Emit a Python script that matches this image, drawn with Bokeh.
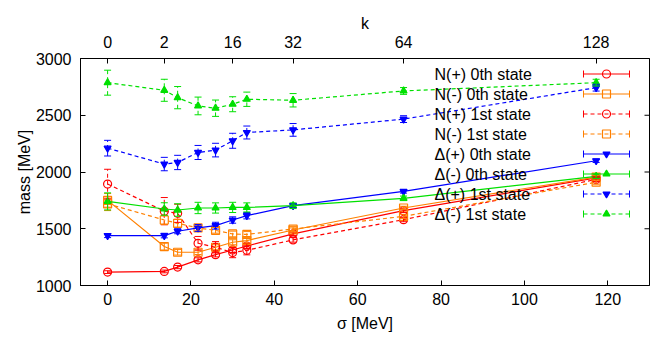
import numpy as np
from bokeh.plotting import figure
from bokeh.models import (LinearAxis, FixedTicker, Range1d, Whisker, ColumnDataSource,
                          Label, TeeHead)
from bokeh.embed import file_html
from bokeh.resources import INLINE

# ---------------- data ----------------
sigma = [0.0, 13.6, 16.8, 21.7, 25.9, 30.0, 33.4, 44.5, 71.0, 117.2]
k_labels = ["0", "2", "16", "32", "64", "128"]
k_sigma = [0.0, 13.6, 30.0, 44.5, 71.0, 117.2]
y_ticks = [1000, 1500, 2000, 2500, 3000]
x_ticks = [0, 20, 40, 60, 80, 100, 120]

Np0 = [1118, 1124, 1162, 1226, 1272, 1313, 1348, 1455, 1659, 1948]
Np0_err = [12, 12, 14, 18, 20, 22, 22, 15, 15, 15]
Nm0 = [1750, 1343, 1293, 1293, 1337, 1381, 1396, 1489, 1683, 1955]
Nm0_err = [60, 30, 25, 20, 22, 22, 22, 18, 15, 15]
Np1 = [1894, 1655, 1636, 1372, 1337, 1290, 1310, 1402, 1580, 1935]
Np1_err = [130, 120, 80, 60, 50, 45, 40, 20, 18, 18]
Nm1 = [1720, 1577, 1548, 1507, 1486, 1454, 1450, 1498, 1609, 1910]
Nm1_err = [60, 40, 35, 25, 25, 25, 25, 20, 18, 18]
Dp0 = [1440, 1440, 1478, 1507, 1527, 1577, 1615, 1703, 1829, 2099]
Dp0_err = [18, 20, 22, 30, 30, 28, 28, 18, 15, 15]
Dm0 = [1741, 1674, 1665, 1683, 1683, 1688, 1688, 1703, 1768, 1962]
Dm0_err = [75, 55, 55, 50, 45, 45, 40, 25, 20, 20]
Dp1 = [2210, 2070, 2084, 2172, 2193, 2275, 2348, 2371, 2466, 2743]
Dp1_err = [69, 59, 63, 62, 60, 66, 57, 56, 30, 30]
Dm1 = [2787, 2720, 2655, 2582, 2562, 2597, 2641, 2632, 2714, 2787]
Dm1_err = [110, 97, 98, 78, 72, 66, 63, 59, 30, 30]

names = ["N(+) 0th state", "N(-) 0th state", "N(+) 1st state", "N(-) 1st state",
         "\u0394(+) 0th state", "\u0394(-) 0th state", "\u0394(+) 1st state", "\u0394(-) 1st state"]

RED = "#ff0000"
ORANGE = "#ff8000"
BLUE = "#0000ff"
GREEN = "#00e000"

series = [
    (Np0, Np0_err, RED, "solid", "circle", False),
    (Nm0, Nm0_err, ORANGE, "solid", "square", False),
    (Np1, Np1_err, RED, "4 3", "circle", False),
    (Nm1, Nm1_err, ORANGE, "4 3", "square", False),
    (Dp0, Dp0_err, BLUE, "solid", "inverted_triangle", True),
    (Dm0, Dm0_err, GREEN, "solid", "triangle", True),
    (Dp1, Dp1_err, BLUE, "4 3", "inverted_triangle", True),
    (Dm1, Dm1_err, GREEN, "4 3", "triangle", True),
]

FONT = "Liberation Sans"

X0, X1 = -6.5, 130.0
Y0, Y1 = 1000.0, 3000.0
W, H = 656, 334
FL, FW, FT, FH = 80, 569, 58, 227
ORIGIN_X, ORIGIN_Y = 0, 0

p = figure(width=W, height=H, x_range=Range1d(X0, X1), y_range=Range1d(Y0, Y1),
           output_backend="svg", toolbar_location=None,
           x_axis_type=None, y_axis_type=None,
           min_border_left=FL, min_border_right=W - FL - FW,
           min_border_top=FT, min_border_bottom=H - FT - FH)
p.grid.visible = False
p.outline_line_color = "black"
p.outline_line_width = 1
p.background_fill_color = "white"
p.border_fill_color = "white"


def style_axis(ax):
    ax.major_tick_in = 5
    ax.major_tick_out = 0
    ax.minor_tick_in = 0
    ax.minor_tick_out = 0
    ax.axis_line_color = "black"
    ax.major_tick_line_color = "black"
    ax.major_label_text_font = FONT
    ax.major_label_text_font_size = "16px"
    ax.major_label_text_color = "black"
    ax.axis_label_text_font = FONT
    ax.axis_label_text_font_size = "16px"
    ax.axis_label_text_font_style = "normal"
    ax.axis_label_text_color = "black"


xb = LinearAxis(ticker=FixedTicker(ticks=x_ticks), axis_label="\u03c3 [MeV]")
style_axis(xb)
xb.major_label_standoff = 7
xb.axis_label_standoff = 7
p.add_layout(xb, "below")

yl = LinearAxis(ticker=FixedTicker(ticks=y_ticks), axis_label="mass [MeV]")
style_axis(yl)
yl.major_label_standoff = 9
yl.axis_label_standoff = 0
p.add_layout(yl, "left")

xt = LinearAxis(ticker=FixedTicker(ticks=k_sigma), axis_label="k",
                major_label_overrides={s: l for s, l in zip(k_sigma, k_labels)})
style_axis(xt)
xt.major_label_standoff = 11
xt.axis_label_standoff = 1
p.add_layout(xt, "above")

sx = FW / (X1 - X0)
sy = FH / (Y1 - Y0)

# right-hand mirrored tick marks (inward)
tick_len = 5 / sx
p.segment(x0=[X1 - tick_len] * len(y_ticks), y0=y_ticks, x1=[X1] * len(y_ticks), y1=y_ticks,
          line_color="black", line_width=1)

# ---------------- data series ----------------
for (vals, errs, col, dash, mk, filled) in series:
    v = np.array(vals, float)
    e = np.array(errs, float)
    src = ColumnDataSource(dict(x=sigma, y=v, lo=v - e, hi=v + e))
    w = Whisker(base="x", lower="lo", upper="hi", source=src, line_color=col,
                line_width=1, line_dash=dash,
                upper_head=TeeHead(size=7, line_color=col, line_width=1),
                lower_head=TeeHead(size=7, line_color=col, line_width=1),
                level="glyph")
    p.add_layout(w)
    p.line("x", "y", source=src, line_color=col, line_width=1.2, line_dash=dash)
    p.scatter("x", "y", source=src, marker=mk, size=8 if not filled else 7,
              line_color=col, line_width=1.2,
              fill_color=col if filled else None)

# ---------------- legend (gnuplot-style key) ----------------


def px2x(px):
    return X0 + (px - ORIGIN_X - FL) / sx


def py2y(py):
    return Y1 - (py - ORIGIN_Y - FT) / sy


for i, (name, s) in enumerate(zip(names, series)):
    vals, errs, col, dash, mk, filled = s
    ry = py2y(73.5 + 20 * i)
    p.add_layout(Label(x=px2x(434), y=ry, text=name, text_font=FONT, text_font_size="16px",
                       text_baseline="middle", text_align="left", text_color="black"))
    xa, xb_, xm = px2x(583), px2x(629), px2x(606)
    p.segment(x0=[xa], y0=[ry], x1=[xb_], y1=[ry], line_color=col, line_width=1.2, line_dash=dash)
    cap = 3.5 / sy
    p.segment(x0=[xa, xb_], y0=[ry - cap, ry - cap], x1=[xa, xb_], y1=[ry + cap, ry + cap],
              line_color=col, line_width=1)
    p.scatter(x=[xm], y=[ry], marker=mk, size=8 if not filled else 7, line_color=col,
              line_width=1.2, fill_color=col if filled else None)

open("out.html", "w").write(file_html(p, INLINE))
